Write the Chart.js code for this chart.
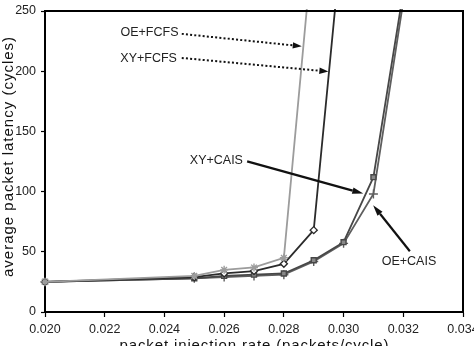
<!DOCTYPE html>
<html><head><meta charset="utf-8">
<script src="https://cdn.jsdelivr.net/npm/chart.js@4/dist/chart.umd.min.js"></script>
<style>html,body{margin:0;padding:0;background:#fff;overflow:hidden}#wrap{width:474px;height:346px;position:relative}</style>
</head><body><div id="wrap"><canvas id="c" width="474" height="346"></canvas></div>
<script>
// ---- data ----
const rates = [0.020, 0.025, 0.026, 0.027, 0.028, 0.029, 0.030, 0.031, 0.032];
const seriesNames = ['OE+FCFS', 'XY+FCFS', 'XY+CAIS', 'OE+CAIS'];
const oeFcfs = [25, 30, 35, 37, 45, 314];
const xyFcfs = [25, 29, 32, 34, 40, 68, 325];
const xyCais = [25, 28, 30, 31, 32, 43, 58, 112, 266];
const oeCais = [25, 28, 29, 30, 31, 42, 57, 98, 258];
const xTickValues = [0.020, 0.022, 0.024, 0.026, 0.028, 0.030, 0.032, 0.034];
const xTickLabels = ['0.020', '0.022', '0.024', '0.026', '0.028', '0.030', '0.032', '0.034'];
const yTickValues = [0, 50, 100, 150, 200, 250];
const yTickLabels = ['0', '50', '100', '150', '200', '250'];
const xTitle = 'packet injection rate (packets/cycle)';
const yTitle = 'average packet latency (cycles)';
// callouts (in data units)
const noteTexts = ['OE+FCFS', 'XY+FCFS', 'XY+CAIS', 'OE+CAIS'];
const notePos = [[0.02350, 232], [0.02347, 210.7], [0.02574, 125.4], [0.03219, 42.3]];
const arrowFrom = [[0.02458, 231], [0.02458, 211], [0.02677, 125.1], [0.03222, 50.5]];
const arrowTo = [[0.02860, 220.7], [0.02949, 199.7], [0.03066, 98.4], [0.03099, 88.7]];
const arrowDotted = [true, true, false, false];

// ---- styles ----
const FONT = '"Liberation Sans", Arial, sans-serif';
const seriesValues = [oeFcfs, xyFcfs, xyCais, oeCais];
const seriesColors = ['#9c9c9c', '#2b2b2b', '#474747', '#5e5e5e'];
const seriesPoints = ['star', 'rectRot', 'rect', 'cross'];
const seriesPointFill = ['#9c9c9c', '#ffffff', '#888888', '#5e5e5e'];
const seriesRadius = [4, 3.5, 3.5, 4.5];

const datasets = seriesNames.map((name, i) => ({
  label: name,
  data: seriesValues[i].map((v, j) => ({x: rates[j], y: v})),
  borderColor: seriesColors[i],
  backgroundColor: seriesPointFill[i],
  borderWidth: 1.8,
  pointStyle: seriesPoints[i],
  pointRadius: seriesRadius[i],
  pointBorderWidth: 1.4,
  pointBorderColor: seriesColors[i],
  pointBackgroundColor: seriesPointFill[i],
  tension: 0,
  clip: {left: 6, top: 2, right: 2, bottom: 2}
}));

function drawArrow(ctx, x1, y1, x2, y2, dotted) {
  const ang = Math.atan2(y2 - y1, x2 - x1);
  const headLen = dotted ? 9 : 11, headW = 3.2;
  const bx = x2 - headLen * Math.cos(ang), by = y2 - headLen * Math.sin(ang);
  ctx.save();
  ctx.strokeStyle = '#111';
  ctx.fillStyle = '#111';
  ctx.lineWidth = dotted ? 2 : 2.2;
  if (dotted) ctx.setLineDash([2, 2.2]);
  ctx.beginPath(); ctx.moveTo(x1, y1); ctx.lineTo(bx, by); ctx.stroke();
  ctx.setLineDash([]);
  ctx.beginPath();
  ctx.moveTo(x2, y2);
  ctx.lineTo(bx + headW * Math.sin(ang), by - headW * Math.cos(ang));
  ctx.lineTo(bx - headW * Math.sin(ang), by + headW * Math.cos(ang));
  ctx.closePath(); ctx.fill();
  ctx.restore();
}

function spacedText(ctx, text, x, y, targetWidth) {
  ctx.letterSpacing = '0px';
  const w = ctx.measureText(text).width;
  const sp = (targetWidth - w) / (text.length - 1);
  ctx.letterSpacing = sp.toFixed(2) + 'px';
  const w2 = ctx.measureText(text).width - sp;
  ctx.textAlign = 'left';
  ctx.fillText(text, x - w2 / 2, y);
  ctx.letterSpacing = '0px';
}

const decor = {
  id: 'decor',
  afterDraw(chart) {
    const ctx = chart.ctx, a = chart.chartArea;
    const xs = chart.scales.x, ys = chart.scales.y;
    ctx.save();
    // frame: top and right
    ctx.strokeStyle = '#000'; ctx.lineWidth = 2;
    ctx.beginPath();
    ctx.moveTo(a.left, a.top); ctx.lineTo(a.right, a.top); ctx.lineTo(a.right, a.bottom);
    ctx.stroke();
    // callout texts and arrows
    ctx.fillStyle = '#222';
    ctx.font = '12.5px ' + FONT;
    ctx.textBaseline = 'middle';
    ctx.textAlign = 'center';
    noteTexts.forEach((t, i) => {
      ctx.fillText(t, xs.getPixelForValue(notePos[i][0]), ys.getPixelForValue(notePos[i][1]));
    });
    noteTexts.forEach((t, i) => {
      drawArrow(ctx,
        xs.getPixelForValue(arrowFrom[i][0]), ys.getPixelForValue(arrowFrom[i][1]),
        xs.getPixelForValue(arrowTo[i][0]), ys.getPixelForValue(arrowTo[i][1]), arrowDotted[i]);
    });
    // axis titles
    ctx.fillStyle = '#111';
    ctx.font = '15px ' + FONT;
    ctx.textBaseline = 'alphabetic';
    spacedText(ctx, xTitle, (a.left + a.right) / 2, 350, 269);
    ctx.save();
    ctx.translate(12.5, 157);
    ctx.rotate(-Math.PI / 2);
    spacedText(ctx, yTitle, 0, 0, 240);
    ctx.restore();
    ctx.restore();
  }
};

new Chart(document.getElementById('c'), {
  type: 'line',
  data: {datasets},
  options: {
    responsive: false,
    animation: false,
    devicePixelRatio: 1,
    layout: {padding: {top: 11, right: 11, left: 0, bottom: 0}},
    plugins: {legend: {display: false}, tooltip: {enabled: false}},
    scales: {
      x: {
        type: 'linear', min: 0.020, max: 0.034,
        afterBuildTicks(s) { s.ticks = xTickValues.map(v => ({value: v})); },
        afterFit(s) { s.height = 34; s.paddingLeft = 0; s.paddingRight = 0; },
        ticks: {
          callback: (v) => xTickLabels[xTickValues.findIndex(t => Math.abs(t - v) < 1e-9)],
          color: '#222', font: {family: FONT, size: 12.5}, padding: 5, maxRotation: 0, autoSkip: false
        },
        grid: {drawOnChartArea: false, drawTicks: true, tickLength: 5, color: '#000', tickWidth: 1.2},
        border: {display: true, color: '#000', width: 2}
      },
      y: {
        type: 'linear', min: 0, max: 250,
        afterBuildTicks(s) { s.ticks = yTickValues.map(v => ({value: v})); },
        afterFit(s) { s.width = 45; s.paddingTop = 0; s.paddingBottom = 0; },
        ticks: {
          callback: (v) => yTickLabels[yTickValues.indexOf(v)],
          color: '#222', font: {family: FONT, size: 12.5}, padding: 5
        },
        grid: {drawOnChartArea: false, drawTicks: true, tickLength: 4, color: '#000', tickWidth: 1.2},
        border: {display: true, color: '#000', width: 2}
      }
    }
  },
  plugins: [decor]
});
</script>
</body></html>
